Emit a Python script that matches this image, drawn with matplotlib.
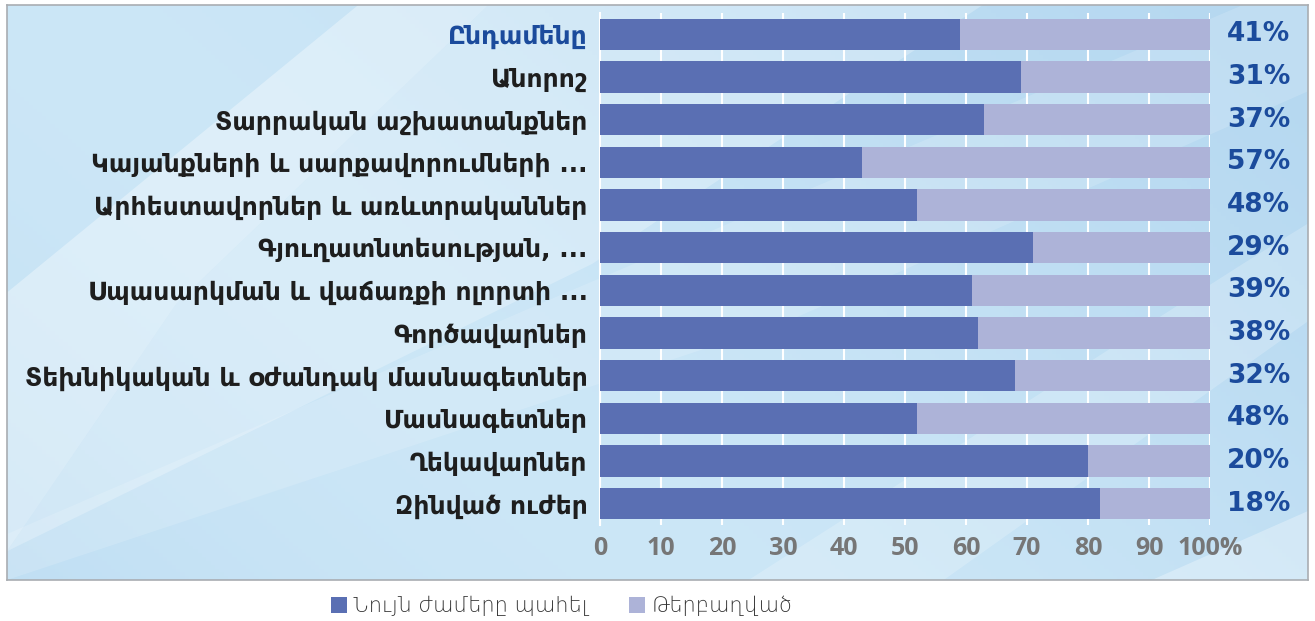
import numpy as np
import matplotlib.pyplot as plt
from matplotlib.patches import Polygon
import matplotlib.transforms as mtransforms

# data (top to bottom)
categories = [
    "Ընդամենը",
    "Անորոշ",
    "Տարրական աշխատանքներ",
    "Կայանքների և սարքավորումների ...",
    "Արհեստավորներ և առևտրականներ",
    "Գյուղատնտեսության, ...",
    "Սպասարկման և վաճառքի ոլորտի ...",
    "Գործավարներ",
    "Տեխնիկական և օժանդակ մասնագետներ",
    "Մասնագետներ",
    "Ղեկավարներ",
    "Զինված ուժեր",
]
underemployed = [41, 31, 37, 57, 48, 29, 39, 38, 32, 48, 20, 18]
same_hours = [100 - v for v in underemployed]
series_names = ["Նույն ժամերը պահել", "Թերբաղված"]
tick_labels = ["0", "10", "20", "30", "40", "50", "60", "70", "80", "90", "100%"]

dark = "#5a6fb3"
light = "#adb3d8"
blue_txt = "#1b4b9c"

W, H = 1315, 621
fig = plt.figure(figsize=(W / 100, H / 100), dpi=100)
fig.patch.set_facecolor("white")

# background panel with light blue gradient
bx0, by0, bx1, by1 = 7 / W, 1 - 580 / H, 1308 / W, 1 - 5 / H
bg = fig.add_axes([bx0, by0, bx1 - bx0, by1 - by0], zorder=0)
gx = np.linspace(0, 1, 300)
gy = np.linspace(0, 1, 150)
GX, GY = np.meshgrid(gx, gy)
c1 = np.array([0.70, 0.84, 0.94])
c2 = np.array([0.81, 0.91, 0.97])
t = 0.5 + 0.4 * np.sin(GX * 3.0 + GY * 1.5)
img = c1[None, None, :] * (1 - t[..., None]) + c2[None, None, :] * t[..., None]
bg.imshow(img, extent=[0, 1, 0, 1], aspect="auto", origin="lower")
# diagonal light streaks
streaks = [
    ([(0.0, 0.05), (0.13, 0.48), (0.37, 1.0), (0.27, 1.0), (0.0, 0.5)], 0.35),
    ([(0.0, 0.05), (0.45, 0.55), (0.75, 1.0), (0.37, 1.0), (0.13, 0.48)], 0.25),
    ([(0.0, 0.0), (0.0, 0.08), (0.43, 0.5), (0.95, 1.0), (1.0, 1.0), (1.0, 0.85), (0.6, 0.45)], 0.15),
    ([(0.57, 0.0), (0.95, 0.55), (1.0, 0.62), (1.0, 0.45), (0.72, 0.0)], 0.2),
    ([(0.88, 0.0), (1.0, 0.12), (1.0, 0.0)], 0.3),
]
for pts, a in streaks:
    bg.add_patch(Polygon(pts, closed=True, facecolor="white", alpha=a, edgecolor="none"))
bg.set_xlim(0, 1)
bg.set_ylim(0, 1)
bg.set_xticks([])
bg.set_yticks([])
for s in bg.spines.values():
    s.set_color("#a9adb2")
    s.set_linewidth(1.2)

# main chart
ax = fig.add_axes([600 / W, 1 - 525 / H, 610 / W, (525 - 13) / H], zorder=2)
ax.patch.set_alpha(0)
y = np.arange(len(categories))
ax.barh(y, same_hours, height=0.73, color=dark, label=series_names[0], zorder=3)
ax.barh(y, underemployed, left=same_hours, height=0.73, color=light, label=series_names[1], zorder=3)
ax.set_ylim(len(categories) - 0.5, -0.5)
ax.set_xlim(0, 100)

ax.set_xticks(np.arange(0, 101, 10))
ax.set_xticklabels(tick_labels, fontsize=18, fontweight="bold", color="#767676",
                   family=["Open Sans", "DejaVu Sans"])
ax.tick_params(axis="x", length=0, pad=8)
ax.grid(axis="x", color="white", linewidth=1.5, zorder=1)
ax.set_axisbelow(True)

ax.set_yticks(y)
ax.set_yticklabels(categories, fontsize=18, fontweight="bold", color="#1e1e1e",
                   family=["DejaVu Sans"])
ax.get_yticklabels()[0].set_color(blue_txt)
ax.tick_params(axis="y", length=0, pad=9)

for s in ["top", "bottom", "right"]:
    ax.spines[s].set_visible(False)
ax.spines["left"].set_color("white")
ax.spines["left"].set_linewidth(1.5)
ax.axvline(100, color="white", linewidth=1.5, zorder=2)

trans = mtransforms.blended_transform_factory(ax.transAxes, ax.transData)
for yi, v in zip(y, underemployed):
    ax.text(1.08, yi, f"{v}%", transform=trans, ha="center", va="center",
            fontsize=19, fontweight="bold", color=blue_txt, family=["DejaVu Sans"])

leg = fig.legend(loc="center", bbox_to_anchor=(562 / W, 1 - 606 / H), ncol=2,
                 frameon=False, handlelength=0.75, handleheight=0.75,
                 handletextpad=0.3, columnspacing=2.0,
                 prop={"family": "DejaVu Sans", "size": 15, "weight": "light"})
for txt in leg.get_texts():
    txt.set_color("#333333")

fig.savefig("out.png", dpi=100, facecolor="white")
